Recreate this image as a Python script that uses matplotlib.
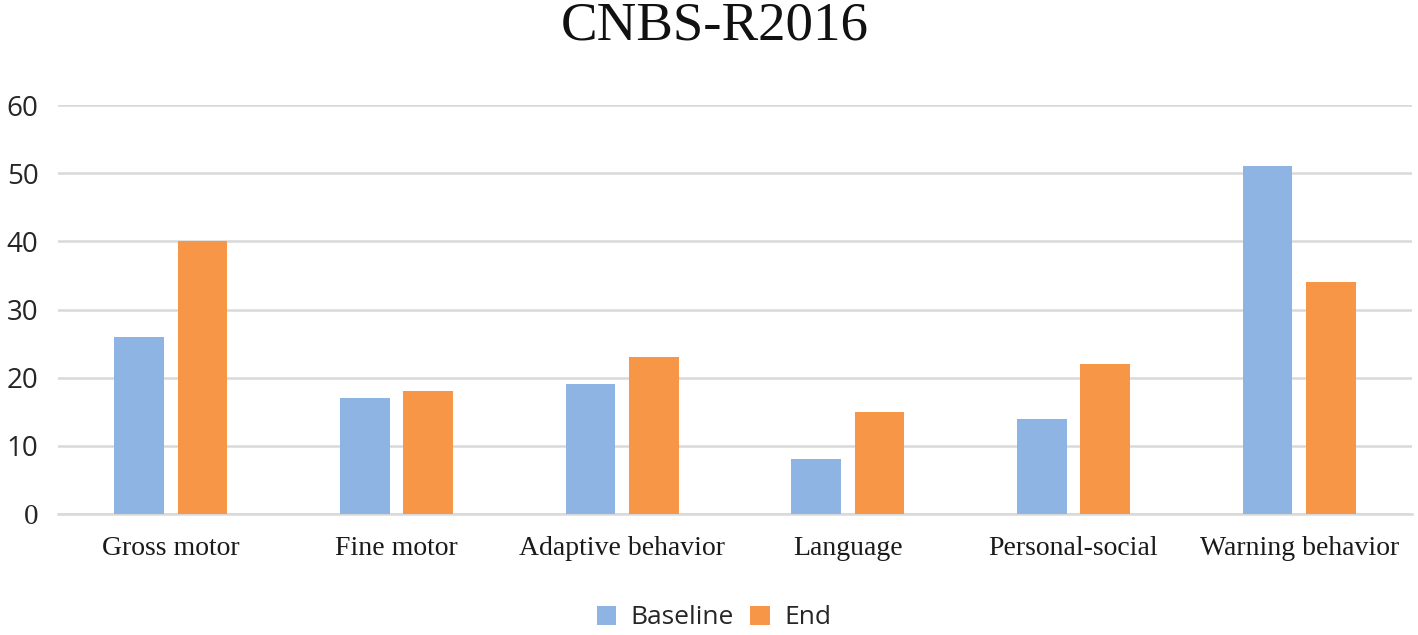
import matplotlib
matplotlib.use("Agg")
import matplotlib.pyplot as plt
from matplotlib.patches import Patch
import numpy as np

categories = ["Gross motor", "Fine motor", "Adaptive behavior",
              "Language", "Personal-social", "Warning behavior"]
baseline = [26, 17, 19, 8, 14, 51]
end = [40, 18, 23, 15, 22, 34]
yticks = [0, 10, 20, 30, 40, 50, 60]

blue = "#8EB4E3"
orange = "#F79646"
grid_gray = "#D9D9D9"

fig = plt.figure(figsize=(14.18, 6.35), dpi=100)
ax = fig.add_axes([58 / 1418, 1 - 514 / 635, (1412 - 58) / 1418, (514 - 105) / 635])

x = np.arange(len(categories))
w = 0.22
off = 0.141
ax.bar(x - off, baseline, width=w, color=blue, zorder=3)
ax.bar(x + off, end, width=w, color=orange, zorder=3)

ax.set_xlim(-0.5, len(categories) - 0.5)
ax.set_ylim(0, 60)
ax.set_yticks(yticks)
ax.yaxis.grid(True, color=grid_gray, linewidth=1.8, zorder=0)
ax.set_axisbelow(True)
for s in ["top", "right", "left"]:
    ax.spines[s].set_visible(False)
ax.spines["bottom"].set_color(grid_gray)
ax.spines["bottom"].set_linewidth(1.8)
ax.tick_params(axis="both", length=0)
ax.tick_params(axis="y", pad=14)
ax.tick_params(axis="x", pad=16)

ax.set_yticklabels([str(v) for v in yticks], fontfamily="Open Sans",
                   fontsize=20, color="#262626")
# the zero label is in a serif face in the original
ax.get_yticklabels()[0].set_fontfamily("Liberation Serif")
ax.get_yticklabels()[0].set_fontsize(21)
ax.set_xticks(x)
ax.set_xticklabels(categories, fontfamily="Liberation Serif", fontsize=20,
                   color="#1a1a1a")

fig.text(0.504, 0.958, "CNBS-R2016", ha="center", va="center",
         fontfamily="Liberation Serif", fontsize=39.5, color="#111111")

handles = [Patch(facecolor=blue, label="Baseline"),
           Patch(facecolor=orange, label="End")]
fig.legend(handles=handles, loc="center", bbox_to_anchor=(0.5035, 1 - 618 / 635),
           ncol=2, frameon=False, prop={"family": "Open Sans", "size": 19},
           handlelength=0.75, handleheight=0.75, handletextpad=0.55,
           columnspacing=0.6, labelcolor="#262626")

fig.savefig("out.png", dpi=100)
